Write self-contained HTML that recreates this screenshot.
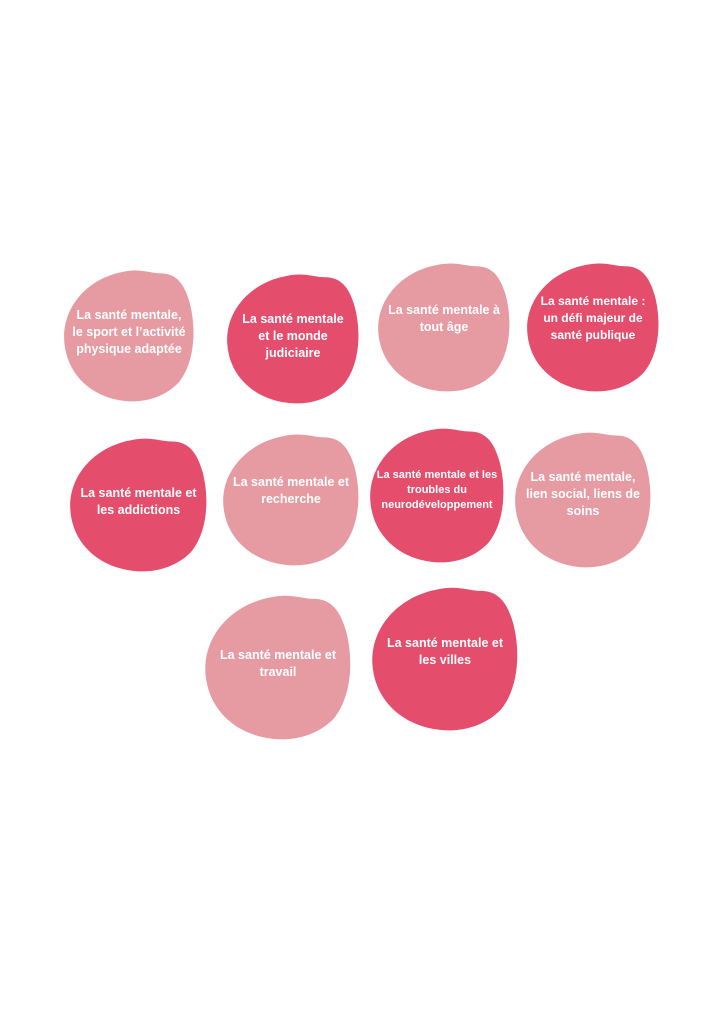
<!DOCTYPE html>
<html><head><meta charset="utf-8"><style>
body{margin:0;width:724px;height:1024px;background:#fff;position:relative;overflow:hidden;font-family:"Liberation Sans",sans-serif}
.b{position:absolute}
.b svg{position:absolute;left:0;top:0;width:100%;height:100%}
.b div{position:absolute;left:2px;right:2px;top:0;bottom:3%;display:flex;align-items:center;justify-content:center;text-align:center;color:#fff;font-weight:bold;font-size:12.5px;line-height:17px}
.l path{fill:#e69aa2}.d path{fill:#e44d6c}
</style></head><body>

<div class="b l" style="left:63px;top:268px;width:132px;height:134px"><svg viewBox="0 0 100 100" preserveAspectRatio="none"><path d="M45,3 C58,0 66,4 74,4 C86,4 92,12 96,26 C101,45 100,70 88,85 C76,98 58,101 45,99 C22,96 3,80 1,55 C-1,30 18,8 45,3 Z"/></svg><div>La santé mentale,<br>le sport et l’activité<br>physique adaptée</div></div>

<div class="b d" style="left:226px;top:272px;width:134px;height:132px"><svg viewBox="0 0 100 100" preserveAspectRatio="none"><path d="M45,3 C58,0 66,4 74,4 C86,4 92,12 96,26 C101,45 100,70 88,85 C76,98 58,101 45,99 C22,96 3,80 1,55 C-1,30 18,8 45,3 Z"/></svg><div>La santé mentale<br>et le monde<br>judiciaire</div></div>

<div class="b l" style="left:377px;top:261px;width:134px;height:131px"><svg viewBox="0 0 100 100" preserveAspectRatio="none"><path d="M45,3 C58,0 66,4 74,4 C86,4 92,12 96,26 C101,45 100,70 88,85 C76,98 58,101 45,99 C22,96 3,80 1,55 C-1,30 18,8 45,3 Z"/></svg><div style="bottom:12%">La santé mentale à<br>tout âge</div></div>

<div class="b d" style="left:526px;top:261px;width:134px;height:131px"><svg viewBox="0 0 100 100" preserveAspectRatio="none"><path d="M45,3 C58,0 66,4 74,4 C86,4 92,12 96,26 C101,45 100,70 88,85 C76,98 58,101 45,99 C22,96 3,80 1,55 C-1,30 18,8 45,3 Z"/></svg><div style="bottom:12%;font-size:12px">La santé mentale :<br>un défi majeur de<br>santé publique</div></div>

<div class="b d" style="left:69px;top:436px;width:139px;height:136px"><svg viewBox="0 0 100 100" preserveAspectRatio="none"><path d="M45,3 C58,0 66,4 74,4 C86,4 92,12 96,26 C101,45 100,70 88,85 C76,98 58,101 45,99 C22,96 3,80 1,55 C-1,30 18,8 45,3 Z"/></svg><div>La santé mentale et<br>les addictions</div></div>

<div class="b l" style="left:222px;top:432px;width:138px;height:134px"><svg viewBox="0 0 100 100" preserveAspectRatio="none"><path d="M45,3 C58,0 66,4 74,4 C86,4 92,12 96,26 C101,45 100,70 88,85 C76,98 58,101 45,99 C22,96 3,80 1,55 C-1,30 18,8 45,3 Z"/></svg><div style="bottom:12%">La santé mentale et<br>recherche</div></div>

<div class="b d" style="left:369px;top:426px;width:136px;height:137px"><svg viewBox="0 0 100 100" preserveAspectRatio="none"><path d="M45,3 C58,0 66,4 74,4 C86,4 92,12 96,26 C101,45 100,70 88,85 C76,98 58,101 45,99 C22,96 3,80 1,55 C-1,30 18,8 45,3 Z"/></svg><div style="font-size:11px;line-height:15px;bottom:6%">La santé mentale et les<br>troubles du<br>neurodéveloppement</div></div>

<div class="b l" style="left:514px;top:430px;width:138px;height:138px"><svg viewBox="0 0 100 100" preserveAspectRatio="none"><path d="M45,3 C58,0 66,4 74,4 C86,4 92,12 96,26 C101,45 100,70 88,85 C76,98 58,101 45,99 C22,96 3,80 1,55 C-1,30 18,8 45,3 Z"/></svg><div style="bottom:6%">La santé mentale,<br>lien social, liens de<br>soins</div></div>

<div class="b l" style="left:204px;top:593px;width:148px;height:147px"><svg viewBox="0 0 100 100" preserveAspectRatio="none"><path d="M45,3 C58,0 66,4 74,4 C86,4 92,12 96,26 C101,45 100,70 88,85 C76,98 58,101 45,99 C22,96 3,80 1,55 C-1,30 18,8 45,3 Z"/></svg><div>La santé mentale et<br>travail</div></div>

<div class="b d" style="left:371px;top:585px;width:148px;height:146px"><svg viewBox="0 0 100 100" preserveAspectRatio="none"><path d="M45,3 C58,0 66,4 74,4 C86,4 92,12 96,26 C101,45 100,70 88,85 C76,98 58,101 45,99 C22,96 3,80 1,55 C-1,30 18,8 45,3 Z"/></svg><div style="bottom:8%">La santé mentale et<br>les villes</div></div>
</body></html>
